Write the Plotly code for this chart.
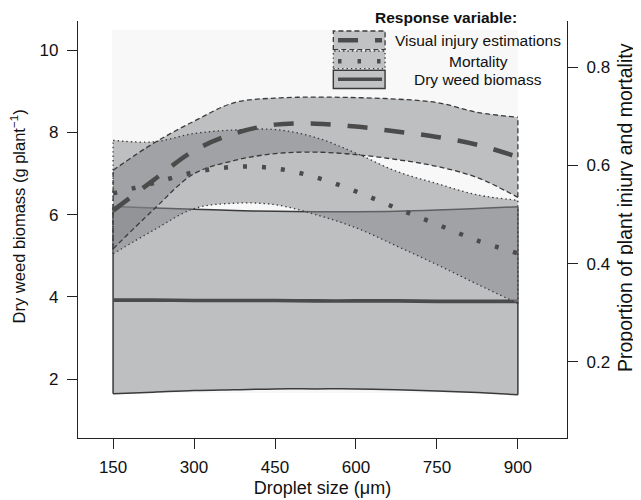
import plotly.graph_objects as go

# ---- data ----
droplet = [150, 225, 300, 375, 450, 525, 600, 675, 750, 825, 900]

vi_mean  = [0.508, 0.570, 0.630, 0.665, 0.683, 0.685, 0.679, 0.669, 0.658, 0.642, 0.617]
vi_upper = [0.590, 0.645, 0.690, 0.728, 0.737, 0.739, 0.738, 0.735, 0.728, 0.708, 0.698]
vi_lower = [0.430, 0.510, 0.583, 0.610, 0.624, 0.627, 0.622, 0.612, 0.598, 0.575, 0.535]

mort_mean  = [0.543, 0.564, 0.586, 0.597, 0.594, 0.576, 0.547, 0.513, 0.480, 0.447, 0.421]
mort_upper = [0.651, 0.648, 0.665, 0.672, 0.673, 0.657, 0.625, 0.588, 0.563, 0.540, 0.529]
mort_lower = [0.420, 0.468, 0.512, 0.523, 0.520, 0.500, 0.473, 0.436, 0.398, 0.358, 0.319]

bio_mean  = [3.92, 3.92, 3.91, 3.91, 3.91, 3.90, 3.90, 3.90, 3.89, 3.89, 3.89]
bio_upper = [6.20, 6.16, 6.13, 6.10, 6.08, 6.07, 6.07, 6.08, 6.11, 6.15, 6.19]
bio_lower = [1.64, 1.68, 1.72, 1.74, 1.76, 1.76, 1.76, 1.74, 1.71, 1.67, 1.62]

x_ticks = [150, 300, 450, 600, 750, 900]
y_ticks = [2, 4, 6, 8, 10]
y2_ticks = [0.2, 0.4, 0.6, 0.8]

legend_names = ["Visual injury estimations", "Mortality", "Dry weed biomass"]
y_title = "Dry weed biomass (g plant<sup>\u22121</sup>)"
y2_title = "Proportion of plant injury and mortality"
x_title = "Droplet size (\u03bcm)"

# ---- styles ----
FONT = "Liberation Sans, Arial, Helvetica, sans-serif"
FILL = "rgba(131,133,137,0.5)"
BAND_FILL = "#c1c2c4"
EDGE = "#3a3a3a"
HEAVY = "#4b4b4b"
VI_EDGE_DASH = "5px,3px"
MORT_EDGE_DASH = "1.4px,3px"
VI_HEAVY_DASH = "20px,17px"
MORT_HEAVY_DASH = "4px,15px"

fig = go.Figure()

def band_fill(lower, upper, yaxis):
    fig.add_trace(go.Scatter(x=droplet, y=lower, yaxis=yaxis, mode="lines",
                             line=dict(width=0, shape="spline", color="rgba(0,0,0,0)"),
                             hoverinfo="skip", showlegend=False))
    fig.add_trace(go.Scatter(x=droplet, y=upper, yaxis=yaxis, mode="lines",
                             fill="tonexty", fillcolor=FILL,
                             line=dict(width=0, shape="spline", color="rgba(0,0,0,0)"),
                             hoverinfo="skip", showlegend=False))

def band_edges(lower, upper, yaxis, dash, width):
    for arr in (lower, upper):
        fig.add_trace(go.Scatter(x=droplet, y=arr, yaxis=yaxis, mode="lines",
                                 line=dict(color=EDGE, width=width, dash=dash, shape="spline"),
                                 hoverinfo="skip", showlegend=False))
    for i in (0, len(droplet) - 1):
        fig.add_trace(go.Scatter(x=[droplet[i], droplet[i]], y=[lower[i], upper[i]], yaxis=yaxis,
                                 mode="lines", line=dict(color=EDGE, width=width, dash=dash),
                                 hoverinfo="skip", showlegend=False))

# fills
band_fill(bio_lower, bio_upper, "y")
band_fill(vi_lower, vi_upper, "y2")
band_fill(mort_lower, mort_upper, "y2")

# outlines
band_edges(bio_lower, bio_upper, "y", "solid", 1.5)
band_edges(vi_lower, vi_upper, "y2", VI_EDGE_DASH, 1.3)
band_edges(mort_lower, mort_upper, "y2", MORT_EDGE_DASH, 1.3)

# center lines
fig.add_trace(go.Scatter(x=droplet, y=bio_mean, yaxis="y", mode="lines",
                         line=dict(color=HEAVY, width=3.6, shape="spline"),
                         name=legend_names[2], showlegend=False))
fig.add_trace(go.Scatter(x=droplet, y=vi_mean, yaxis="y2", mode="lines",
                         line=dict(color=HEAVY, width=4.5, dash=VI_HEAVY_DASH, shape="spline"),
                         name=legend_names[0], showlegend=False))
fig.add_trace(go.Scatter(x=droplet, y=mort_mean, yaxis="y2", mode="lines",
                         line=dict(color=HEAVY, width=4.5, dash=MORT_HEAVY_DASH, shape="spline"),
                         name=legend_names[1], showlegend=False))

# ---- custom legend (paper coords; page pixels -> plot fractions) ----
L, R, T, B = 78.3, 566.7, 20.7, 438.0
def px(xp):
    return (xp - L) / (R - L)
def py(yp):
    return (B - yp) / (B - T)

shapes = []
# faint background panel
shapes.append(dict(type="rect", xref="x", yref="y", x0=148, x1=900, y0=1.66, y1=10.49,
                   fillcolor="#f8f8f8", line=dict(width=0), layer="below"))

rows = [(30.7, 49.3, 40.0, VI_EDGE_DASH, VI_HEAVY_DASH, 4.5),
        (50.7, 68.3, 61.0, MORT_EDGE_DASH, "3.5px,16px", 4.5),
        (70.0, 88.3, 79.0, "solid", "solid", 3.6)]
for (y0, y1, yc, edash, hdash, hw), name in zip(rows, legend_names):
    shapes.append(dict(type="rect", xref="paper", yref="paper",
                       x0=px(333.3), x1=px(385.0), y0=py(y1), y1=py(y0),
                       fillcolor=BAND_FILL,
                       line=dict(color=EDGE, width=1.4 if edash == "solid" else 1.3, dash=edash)))
    shapes.append(dict(type="line", xref="paper", yref="paper",
                       x0=px(338.0), x1=px(382.0), y0=py(yc), y1=py(yc),
                       line=dict(color=HEAVY, width=hw, dash=hdash)))

annotations = []
annotations.append(dict(text="<b>Response variable:</b>", xref="paper", yref="paper",
                        x=px(446), y=py(16.7), xanchor="center", yanchor="middle",
                        showarrow=False, font=dict(family=FONT, size=15.5, color="#111")))
for (y0, y1, yc, *_), name in zip(rows, legend_names):
    annotations.append(dict(text=name, xref="paper", yref="paper",
                            x=px(478), y=py(yc), xanchor="center", yanchor="middle",
                            showarrow=False, font=dict(family=FONT, size=15.5, color="#111")))
# axis titles
annotations.append(dict(text=y_title, xref="paper", yref="paper", x=px(18.6), y=py(216),
                        xanchor="center", yanchor="middle", textangle=-90, showarrow=False,
                        font=dict(family=FONT, size=16.5, color="#111")))
annotations.append(dict(text=y2_title, xref="paper", yref="paper", x=px(624.5), y=py(207),
                        xanchor="center", yanchor="middle", textangle=-90, showarrow=False,
                        font=dict(family=FONT, size=19.5, color="#111")))

axis_common = dict(showline=True, linecolor="#222", linewidth=1.2, ticks="outside",
                   ticklen=10, tickwidth=1.2, tickcolor="#222", showgrid=False,
                   zeroline=False, tickfont=dict(family=FONT, size=17, color="#111"))

# the page body adds an 8px offset, so the figure is 8px smaller and shifted
fig.update_layout(
    width=633, height=492,
    margin=dict(l=70, r=74, t=13, b=62, autoexpand=False),
    paper_bgcolor="white", plot_bgcolor="white",
    showlegend=False,
    font=dict(family=FONT, color="#111"),
    xaxis=dict(range=[85, 991], tickvals=x_ticks, ticklabelstandoff=3,
               title=dict(text=x_title, font=dict(family=FONT, size=18), standoff=5),
               **axis_common),
    yaxis=dict(range=[0.565, 10.71], tickvals=y_ticks, ticklabelstandoff=5,
               **axis_common),
    yaxis2=dict(range=[0.045, 0.894], tickvals=y2_ticks, tickformat=".1f",
                overlaying="y", side="right", ticklabelstandoff=5,
                **axis_common),
    shapes=shapes,
    annotations=annotations,
)

fig.write_html("out.html")
